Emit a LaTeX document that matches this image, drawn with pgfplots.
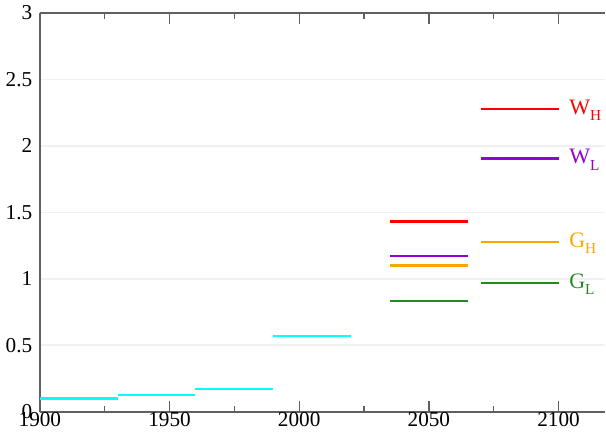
\documentclass[border=0pt]{standalone}
\usepackage{pgfplots}
\pgfplotsset{compat=1.18}
\usepackage{fontspec}
\setmainfont{Liberation Serif}
\definecolor{cyn}{RGB}{0,255,255}
\definecolor{rd}{RGB}{255,0,0}
\definecolor{pur}{RGB}{150,0,210}
\definecolor{org}{RGB}{255,165,0}
\definecolor{grn}{RGB}{34,139,34}
\newcommand{\lab}[2]{#1\raisebox{-0.6ex}{\small #2}}
\begin{document}
\begin{tikzpicture}
\begin{axis}[
  width=333pt, height=235pt, scale only axis,
  xmin=1900, xmax=2118, ymin=0, ymax=3,
  axis x line=box, axis y line=left,
  axis line style={-, gray!75!black, line width=0.9pt},
  xtick={1900,1950,2000,2050,2100}, minor x tick num=1,
  xtick pos=both, tick align=inside,
  major tick length=6.5pt, minor tick length=3.5pt,
  xtick style={gray!75!black, line width=0.8pt},
  ytick={0,0.5,1,1.5,2,2.5,3}, ytick style={draw=none},
  ymajorgrids, grid style={gray!12, line width=0.9pt},
  yticklabel style={/pgf/number format/fixed, /pgf/number format/precision=1},
  tick label style={font=\fontsize{12.5}{14}\selectfont},
  /pgf/number format/assume math mode=true,
  /pgf/number format/1000 sep={},
  xticklabel style={yshift=3pt},
  yticklabel style={xshift=-1pt},
  clip=false,
]
% cyan: observed
\addplot[cyn, line width=1.3pt] coordinates {(1900,0.10) (1930,0.10)};
\addplot[cyn, line width=1.3pt] coordinates {(1930,0.128) (1960,0.128)};
\addplot[cyn, line width=1.3pt] coordinates {(1960,0.17) (1990,0.17)};
\addplot[cyn, line width=1.3pt] coordinates {(1990,0.57) (2020,0.57)};
% 2035-2065
\addplot[rd, line width=1.3pt] coordinates {(2035,1.43) (2065,1.43)};
\addplot[pur, line width=1.3pt] coordinates {(2035,1.17) (2065,1.17)};
\addplot[org, line width=1.3pt] coordinates {(2035,1.10) (2065,1.10)};
\addplot[grn, line width=1.3pt] coordinates {(2035,0.83) (2065,0.83)};
% 2070-2100
\addplot[rd, line width=1.3pt] coordinates {(2070,2.275) (2100,2.275)};
\addplot[pur, line width=1.3pt] coordinates {(2070,1.905) (2100,1.905)};
\addplot[org, line width=1.3pt] coordinates {(2070,1.275) (2100,1.275)};
\addplot[grn, line width=1.3pt] coordinates {(2070,0.97) (2100,0.97)};
\node[anchor=west, text=rd, font=\fontsize{13}{15}\selectfont, inner sep=0pt] at (axis cs:2104,2.265) {\lab{W}{H}};
\node[anchor=west, text=pur, font=\fontsize{13}{15}\selectfont, inner sep=0pt] at (axis cs:2104,1.895) {\lab{W}{L}};
\node[anchor=west, text=org, font=\fontsize{13}{15}\selectfont, inner sep=0pt] at (axis cs:2104,1.265) {\lab{G}{H}};
\node[anchor=west, text=grn, font=\fontsize{13}{15}\selectfont, inner sep=0pt] at (axis cs:2104,0.96) {\lab{G}{L}};
\end{axis}
\end{tikzpicture}
\end{document}
